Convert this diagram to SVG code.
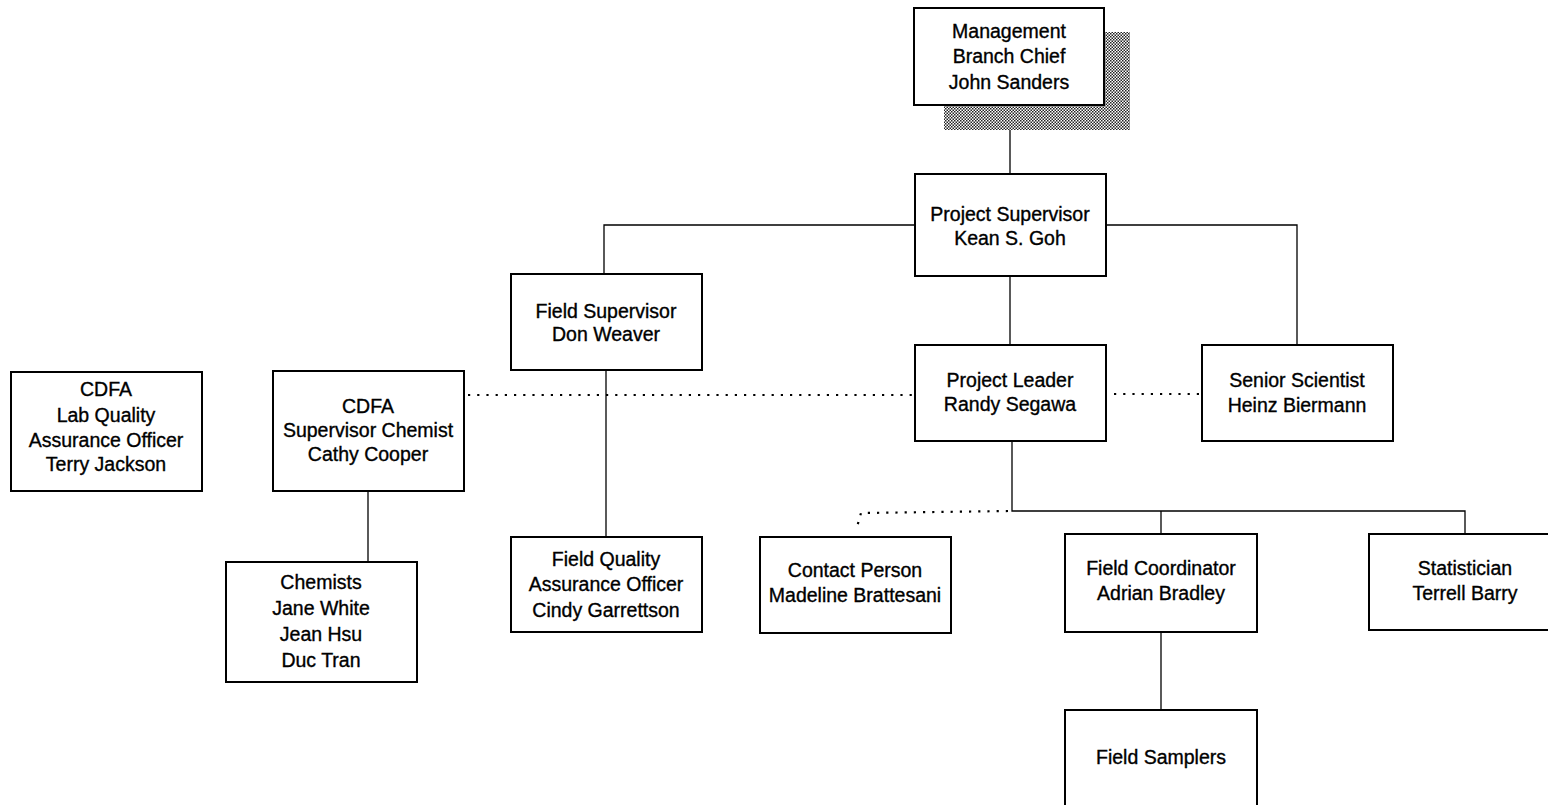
<svg xmlns="http://www.w3.org/2000/svg" width="1548" height="805" viewBox="0 0 1548 805">
<defs>
<pattern id="dots" width="3" height="3" patternUnits="userSpaceOnUse">
<rect width="3" height="3" fill="#ffffff"/>
<rect width="1.5" height="1.5" fill="#222"/>
<rect x="1.5" y="1.5" width="1.5" height="1.5" fill="#222"/>
</pattern>
</defs>
<style>
.box{fill:#fff;stroke:#000;stroke-width:2}
.t{font-family:"Liberation Sans",Arial,sans-serif;font-size:19.5px;fill:#000;stroke:#000;stroke-width:0.35;text-anchor:middle}
.ln{fill:none;stroke:#000;stroke-width:1.3}
.dot{fill:none;stroke:#000;stroke-width:2.2;stroke-dasharray:2.2 7}
</style>
<rect width="1548" height="805" fill="#fff"/>
<g id="connectors">
<line class="ln" x1="1010" y1="105" x2="1010" y2="175"/>
<polyline class="ln" points="914,225 604,225 604,274"/>
<polyline class="ln" points="1106,225 1297,225 1297,345"/>
<line class="ln" x1="1010" y1="276" x2="1010" y2="345"/>
<line class="ln" x1="606" y1="370" x2="606" y2="537"/>
<line class="ln" x1="368" y1="491" x2="368" y2="562"/>
<polyline class="ln" points="1012,441 1012,511 1465,511 1465,534"/>
<line class="ln" x1="1161" y1="511" x2="1161" y2="534"/>
<line class="ln" x1="1161" y1="632" x2="1161" y2="710"/>
<line class="dot" x1="468" y1="395" x2="914" y2="395"/>
<line class="dot" x1="1114" y1="394" x2="1202" y2="394"/>
<polyline class="dot" points="1008,511 861,513 857,527"/>
</g>
<g id="management">
<rect x="944" y="32" width="186" height="98" fill="url(#dots)"/>
<rect class="box" x="914" y="8" width="190" height="97"/>
<text class="t" x="1009" y="38">Management</text>
<text class="t" x="1009" y="63">Branch Chief</text>
<text class="t" x="1009" y="89">John Sanders</text>
</g>
<g id="project-supervisor">
<rect class="box" x="915" y="174" width="191" height="102"/>
<text class="t" x="1010" y="221">Project Supervisor</text>
<text class="t" x="1010" y="245">Kean S. Goh</text>
</g>
<g id="field-supervisor">
<rect class="box" x="511" y="274" width="191" height="96"/>
<text class="t" x="606" y="318">Field Supervisor</text>
<text class="t" x="606" y="341">Don Weaver</text>
</g>
<g id="project-leader">
<rect class="box" x="915" y="345" width="191" height="96"/>
<text class="t" x="1010" y="387">Project Leader</text>
<text class="t" x="1010" y="411">Randy Segawa</text>
</g>
<g id="senior-scientist">
<rect class="box" x="1202" y="345" width="191" height="96"/>
<text class="t" x="1297" y="387">Senior Scientist</text>
<text class="t" x="1297" y="412">Heinz Biermann</text>
</g>
<g id="cdfa-lab-qa">
<rect class="box" x="11" y="372" width="191" height="119"/>
<text class="t" x="106" y="396">CDFA</text>
<text class="t" x="106" y="422">Lab Quality</text>
<text class="t" x="106" y="447">Assurance Officer</text>
<text class="t" x="106" y="471">Terry Jackson</text>
</g>
<g id="cdfa-supervisor-chemist">
<rect class="box" x="273" y="371" width="191" height="120"/>
<text class="t" x="368" y="413">CDFA</text>
<text class="t" x="368" y="437">Supervisor Chemist</text>
<text class="t" x="368" y="461">Cathy Cooper</text>
</g>
<g id="chemists">
<rect class="box" x="226" y="562" width="191" height="120"/>
<text class="t" x="321" y="589">Chemists</text>
<text class="t" x="321" y="615">Jane White</text>
<text class="t" x="321" y="641">Jean Hsu</text>
<text class="t" x="321" y="667">Duc Tran</text>
</g>
<g id="field-qa">
<rect class="box" x="511" y="537" width="191" height="95"/>
<text class="t" x="606" y="566">Field Quality</text>
<text class="t" x="606" y="591">Assurance Officer</text>
<text class="t" x="606" y="617">Cindy Garrettson</text>
</g>
<g id="contact-person">
<rect class="box" x="760" y="537" width="191" height="96"/>
<text class="t" x="855" y="577">Contact Person</text>
<text class="t" x="855" y="602">Madeline Brattesani</text>
</g>
<g id="field-coordinator">
<rect class="box" x="1065" y="534" width="192" height="98"/>
<text class="t" x="1161" y="575">Field Coordinator</text>
<text class="t" x="1161" y="600">Adrian Bradley</text>
</g>
<g id="statistician">
<rect class="box" x="1369" y="534" width="192" height="96"/>
<text class="t" x="1465" y="575">Statistician</text>
<text class="t" x="1465" y="600">Terrell Barry</text>
</g>
<g id="field-samplers">
<rect class="box" x="1065" y="710" width="192" height="100"/>
<text class="t" x="1161" y="764">Field Samplers</text>
</g>
</svg>
